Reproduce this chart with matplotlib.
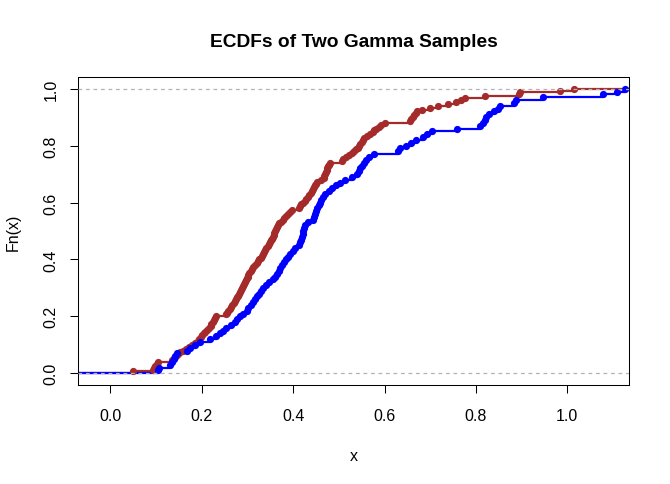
import matplotlib
matplotlib.use("Agg")
import matplotlib.pyplot as plt
import numpy as np

plt.rcParams['font.family'] = ['Liberation Sans', 'DejaVu Sans']

# Sample 1 (brown), n = 150
sample_red = [
    0.050, 0.094, 0.096, 0.098, 0.101, 0.104, 0.134, 0.138, 0.143, 0.147,
    0.152, 0.158, 0.165, 0.172, 0.179, 0.186, 0.191, 0.194, 0.198, 0.201,
    0.205, 0.208, 0.212, 0.215, 0.219, 0.221, 0.224, 0.226, 0.229, 0.231,
    0.252, 0.255, 0.258, 0.261, 0.264, 0.267, 0.270, 0.272, 0.275, 0.277,
    0.279, 0.281, 0.284, 0.286, 0.288, 0.290, 0.293, 0.294, 0.296, 0.298,
    0.300, 0.302, 0.304, 0.307, 0.310, 0.313, 0.316, 0.320, 0.323, 0.326,
    0.329, 0.331, 0.334, 0.336, 0.339, 0.341, 0.344, 0.346, 0.349, 0.351,
    0.353, 0.355, 0.357, 0.358, 0.360, 0.362, 0.364, 0.367, 0.370, 0.373,
    0.377, 0.380, 0.384, 0.389, 0.393, 0.397, 0.413, 0.415, 0.418, 0.421,
    0.425, 0.429, 0.433, 0.435, 0.438, 0.441, 0.443, 0.445, 0.447, 0.449,
    0.452, 0.461, 0.467, 0.468, 0.470, 0.472, 0.473, 0.475, 0.477, 0.478,
    0.480, 0.507, 0.510, 0.515, 0.522, 0.529, 0.533, 0.537, 0.541, 0.545,
    0.547, 0.550, 0.552, 0.555, 0.562, 0.569, 0.574, 0.578, 0.582, 0.587,
    0.592, 0.600, 0.656, 0.659, 0.662, 0.665, 0.668, 0.671, 0.681, 0.700,
    0.718, 0.738, 0.756, 0.767, 0.777, 0.820, 0.895, 0.897, 0.984, 1.016,
]

# Sample 2 (blue), n = 100
sample_blue = [
    0.105, 0.106, 0.130, 0.134, 0.138, 0.141, 0.145, 0.167, 0.175, 0.186,
    0.196, 0.217, 0.230, 0.240, 0.247, 0.254, 0.263, 0.272, 0.278, 0.283,
    0.290, 0.298, 0.302, 0.307, 0.311, 0.316, 0.320, 0.325, 0.330, 0.335,
    0.340, 0.346, 0.355, 0.360, 0.364, 0.368, 0.372, 0.376, 0.380, 0.385,
    0.389, 0.394, 0.399, 0.405, 0.412, 0.416, 0.418, 0.419, 0.421, 0.422,
    0.424, 0.426, 0.432, 0.443, 0.446, 0.448, 0.450, 0.453, 0.456, 0.459,
    0.462, 0.465, 0.470, 0.478, 0.485, 0.493, 0.503, 0.514, 0.528, 0.540,
    0.544, 0.547, 0.550, 0.554, 0.559, 0.566, 0.576, 0.630, 0.634, 0.648,
    0.658, 0.670, 0.684, 0.694, 0.703, 0.758, 0.808, 0.815, 0.820, 0.822,
    0.828, 0.840, 0.848, 0.853, 0.884, 0.889, 0.948, 1.079, 1.108, 1.127,
]

x_ticks = [0.0, 0.2, 0.4, 0.6, 0.8, 1.0]
y_ticks = [0.0, 0.2, 0.4, 0.6, 0.8, 1.0]
title = "ECDFs of Two Gamma Samples"
xlabel = "x"
ylabel = "Fn(x)"

W, H = 670, 485
XLIM = (-0.0705, 1.136)
YLIM = (-0.04, 1.04)

fig = plt.figure(figsize=(W / 100, H / 100), dpi=100)
left, right, top, bottom = 78.3, 629.3, 78.3, 385.7
ax = fig.add_axes([left / W, 1 - bottom / H, (right - left) / W, (bottom - top) / H])


def draw_ecdf(vals, color):
    xs = np.sort(np.asarray(vals, dtype=float))
    n = len(xs)
    ys = np.arange(1, n + 1) / n
    lx = np.concatenate([[XLIM[0] - 0.05], xs, [XLIM[1] + 0.05]])
    ly = np.concatenate([[0.0], ys, [1.0]])
    ax.plot(lx, ly, drawstyle='steps-post', color=color, lw=1.6, zorder=2)
    ax.plot(xs, ys, 'o', color=color, ms=5.2, mew=0, zorder=3)


draw_ecdf(sample_red, '#A52A2A')
draw_ecdf(sample_blue, '#0000FF')

for yv in (0.0, 1.0):
    ax.axhline(yv, color='#B3B3B3', lw=0.9, dashes=(3.0, 3.0), zorder=4)

ax.set_xlim(*XLIM)
ax.set_ylim(*YLIM)
ax.set_xticks(x_ticks)
ax.set_xticklabels([f"{v:.1f}" for v in x_ticks])
ax.set_yticks(y_ticks)
ax.set_yticklabels([f"{v:.1f}" for v in y_ticks], rotation=90, va='center')

ax.tick_params(axis='both', direction='out', length=5.5, width=0.75,
               labelsize=11.5, colors='black')
ax.tick_params(axis='x', pad=11.5)
ax.tick_params(axis='y', pad=8.5)
for s in ax.spines.values():
    s.set_linewidth(0.75)
    s.set_color('black')

ax.set_xlabel(xlabel, fontsize=11.5)
ax.xaxis.label.set_va('center')
ax.xaxis.set_label_coords(0.5, (bottom - 457) / (bottom - top))
ax.set_ylabel(ylabel, fontsize=11.5)
ax.yaxis.label.set_va('center')
ax.yaxis.set_label_coords((13.5 - left) / (right - left), 0.5)

fig.text((left + right) / 2 / W, 1 - 46.7 / H, title, ha='center', va='baseline',
         fontsize=13.8, fontweight='bold')

fig.savefig("out.png", dpi=100)
